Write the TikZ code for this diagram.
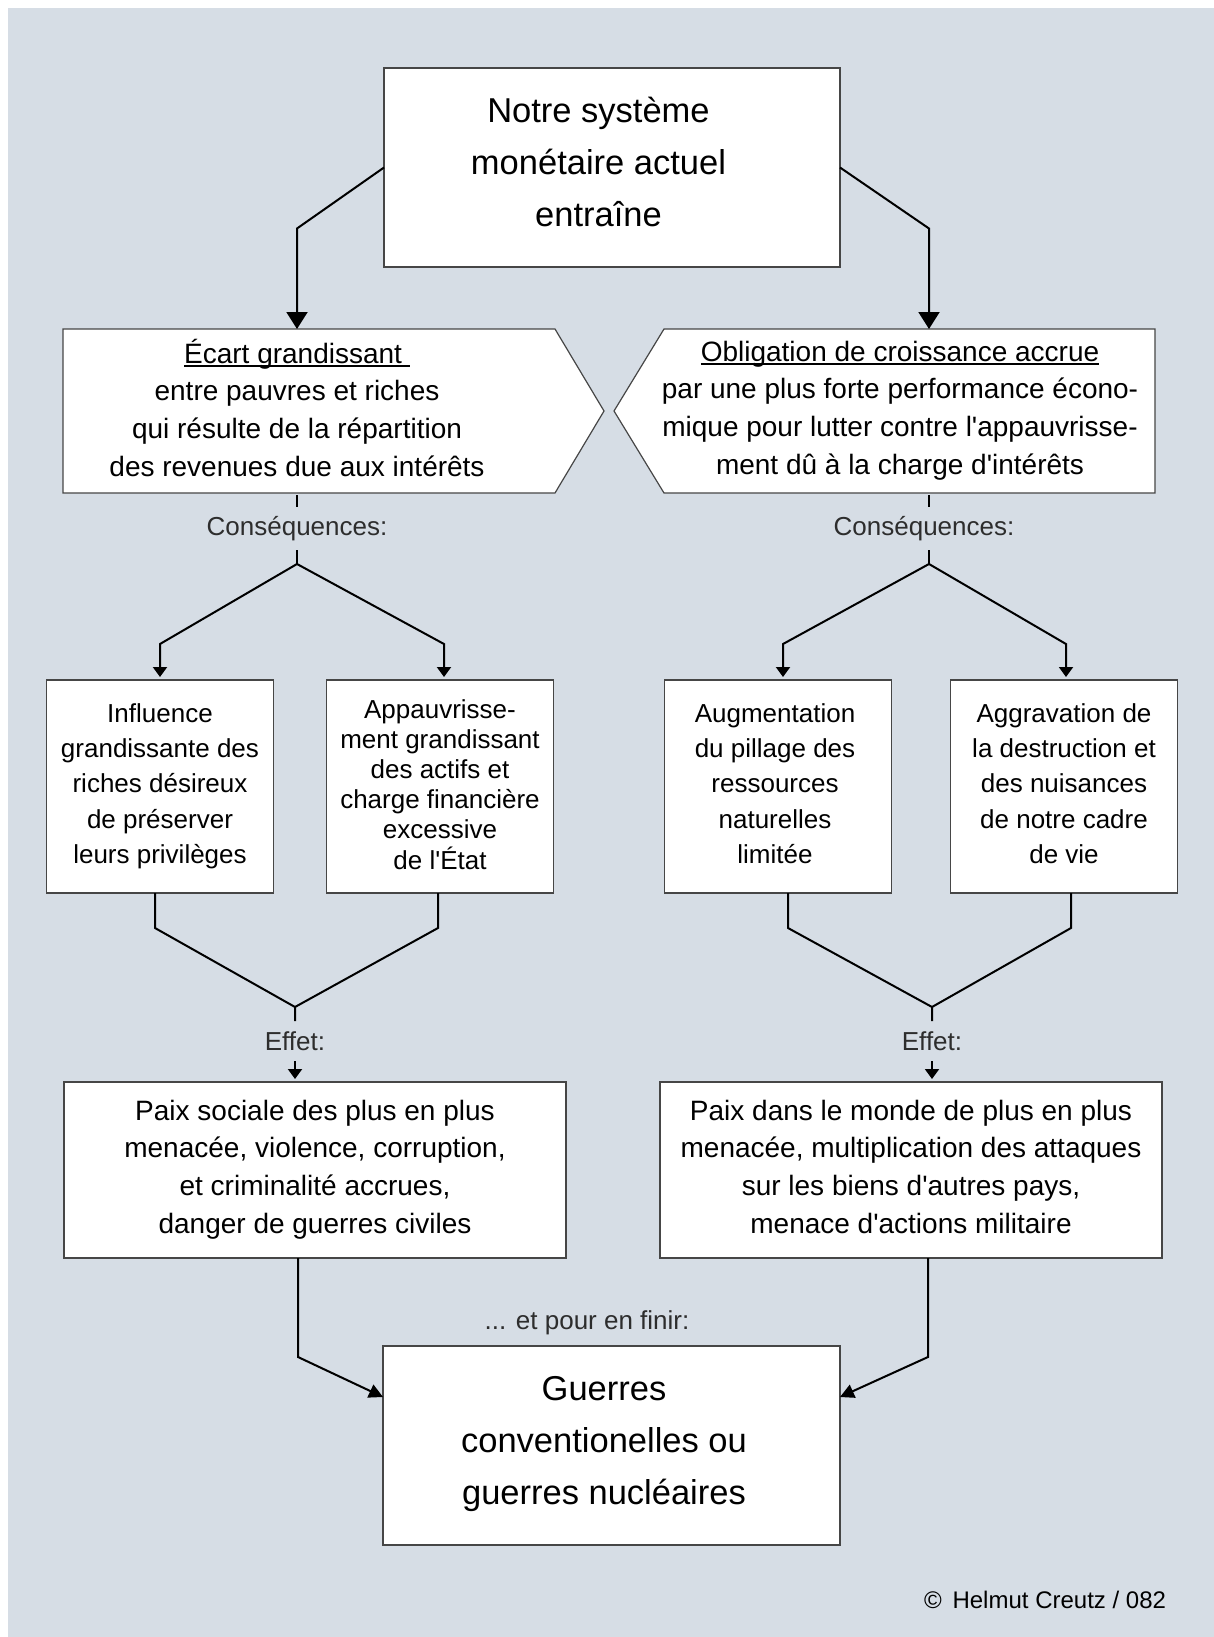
\documentclass[tikz,border=0pt]{standalone}
\usepackage{fontspec}
\setmainfont{Liberation Sans}[Ligatures=TeXOff]
\usetikzlibrary{arrows.meta}
\definecolor{bgc}{RGB}{214,221,229}
\definecolor{edgec}{RGB}{70,70,70}
\definecolor{lblc}{RGB}{45,45,45}
\newcommand\fntTop{\fontsize{17.25pt}{26pt}\selectfont}
\newcommand\fntMid{\fontsize{14pt}{18.8pt}\selectfont}
\newcommand\fntSm{\fontsize{13pt}{17.6pt}\selectfont}
\newcommand\fntSmT{\fontsize{13pt}{15.1pt}\selectfont}
\newcommand\fntLbl{\fontsize{13pt}{15pt}\selectfont}
\newcommand\fntCopy{\fontsize{12pt}{14pt}\selectfont}
\newcommand\undl[1]{\setbox0=\hbox{#1}\rlap{\rule[-1.6pt]{\wd0}{0.65pt}}\box0}
\begin{document}
\begin{tikzpicture}[x=0.5pt,y=-0.5pt,
  every node/.style={inner sep=0pt, outer sep=0pt},
  lines/.style={align=center,
    execute at begin node={\rule{0pt}{\dimexpr0.7\baselineskip+#1\relax}},
    execute at end node={\rule[\dimexpr-0.3\baselineskip+#1\relax]{0pt}{0pt}}},
  lines/.default=2.25pt,
  box/.style={draw=edgec, line width=0.6pt, fill=white, lines},
  frame/.style={draw=edgec, line width=0.6pt, fill=white},
  txt/.style={lines},
  lbl/.style={text=lblc, font=\fntLbl},
  shapeline/.style={draw=edgec, line width=0.6pt, fill=white},
  conn/.style={line width=1pt, black, line join=miter},
  bigarr/.style={conn, -{Triangle[length=8.5pt,width=10.5pt]}},
  smarr/.style={conn, -{Triangle[length=5pt,width=7pt]}, shorten >=1.5pt},
  midarr/.style={conn, -{Triangle[length=7pt,width=7pt]}}
]
\useasboundingbox (0,0) rectangle (1214,1637);
\fill[white] (0,0) rectangle (1214,1637);
\fill[bgc] (8,8) rectangle (1214,1637);

% pentagon outlines
\path[shapeline] (63,329) -- (555,329) -- (604,411) -- (555,493) -- (63,493) -- cycle;
\path[shapeline] (664,329) -- (1155,329) -- (1155,493) -- (664,493) -- (614,411) -- cycle;

% nodes
\node[frame, minimum width=228pt, minimum height=99.5pt] (top) at (612,167.5) {};
\node[txt=2.75pt, font=\fntTop] (toptext) at (598.5,167.5)
  {Notre système\\monétaire actuel\\entraîne};
\node[txt, font=\fntMid, minimum height=82pt] (ecart) at (297,411)
  {\undl{Écart grandissant\ }\\entre pauvres et riches\\qui résulte de la répartition\\des revenues due aux intérêts};
\node[txt, font=\fntMid, minimum height=82pt] (oblig) at (900,411)
  {\undl{Obligation de croissance accrue}\\par une plus forte performance écono-\\mique pour lutter contre l'appauvrisse-\\ment dû à la charge d'intérêts};
\node[lbl, minimum height=21.5pt] (cons1) at (297,528.5) {Conséquences:};
\node[lbl, minimum height=21.5pt] (cons2) at (924,528.5) {Conséquences:};

\node[box, font=\fntSm, minimum width=113.5pt, minimum height=106.5pt] (A) at (160,786.5)
  {Influence\\grandissante des\\riches désireux\\de préserver\\leurs privilèges};
\node[box, font=\fntSmT, minimum width=113.5pt, minimum height=106.5pt] (B) at (440,786.5)
  {Appauvrisse-\\ment grandissant\\des actifs et\\charge financière\\excessive\\de l'État};
\node[frame, minimum width=113.5pt, minimum height=106.5pt] (D) at (778,786.5) {};
\node[txt, font=\fntSm] (Dtext) at (775,786.5)
  {Augmentation\\du pillage des\\ressources\\naturelles\\limitée};
\node[box, font=\fntSm, minimum width=113.5pt, minimum height=106.5pt] (E) at (1064,786.5)
  {Aggravation de\\la destruction et\\des nuisances\\de notre cadre\\de vie};

\node[lbl, minimum height=20pt] (eff1) at (295,1041) {Effet:};
\node[lbl, minimum height=20pt] (eff2) at (932,1041) {Effet:};

\node[box=2.6pt, font=\fntMid, minimum width=251pt, minimum height=88pt] (C) at (315,1170)
  {Paix sociale des plus en plus\\menacée, violence, corruption,\\et criminalité accrues,\\danger de guerres civiles};
\node[box=2.6pt, font=\fntMid, minimum width=251pt, minimum height=88pt] (F) at (911,1170)
  {Paix dans le monde de plus en plus\\menacée, multiplication des attaques\\sur les biens d'autres pays,\\menace d'actions militaire};

\node[lbl] (fin) at (587,1323) {... et pour en finir:};
\node[frame, minimum width=228.5pt, minimum height=99.5pt] (final) at (611.5,1445.5) {};
\node[txt=3pt, font=\fntTop] (finaltext) at (604,1445.5)
  {Guerres\\conventionelles ou\\guerres nucléaires};

\node[font=\fntCopy, anchor=base east] (copy) at (1166,1608) {©\hspace{0.45em}Helmut Creutz / 082};

% connectors
\draw[bigarr] (top.west) -- ++(-87,61) -- (ecart.north);
\draw[bigarr] (top.east) -- ++(89,61) -- ([xshift=14.5pt]oblig.north);

\draw[conn] ([yshift=-1pt]ecart.south) -- (cons1.north);
\draw[conn] ([xshift=14.5pt,yshift=-1pt]oblig.south) -- ([xshift=2.5pt]cons2.north);
\draw[conn] (cons1.south) -- ++(0,14) coordinate (b1);
\draw[conn] ([xshift=2.5pt]cons2.south) -- ++(0,14) coordinate (b2);
\draw[smarr] (b1) -- ++(-137,80) -- (A.north);
\draw[smarr] (b1) -- ++(147,80) -- ([xshift=2pt]B.north);
\draw[smarr] (b2) -- ++(-146,80) -- ([xshift=2.5pt]D.north);
\draw[smarr] (b2) -- ++(137,80) -- ([xshift=1pt]E.north);

\draw[conn] ([xshift=-2.5pt]A.south) -- ++(0,35) -- ([yshift=7pt]eff1.north) -- (eff1.north);
\draw[conn] ([xshift=-1pt]B.south) -- ++(0,35) -- ([yshift=7pt]eff1.north);
\draw[smarr] (eff1.south) -- ([xshift=-10pt]C.north);

\draw[conn] ([xshift=5pt]D.south) -- ++(0,35) -- ([yshift=7pt]eff2.north) -- (eff2.north);
\draw[conn] ([xshift=3.5pt]E.south) -- ++(0,35) -- ([yshift=7pt]eff2.north);
\draw[smarr] (eff2.south) -- ([xshift=10.5pt]F.north);

\draw[midarr] ([xshift=-8.5pt]C.south) -- ++(0,99) -- ([yshift=24.25pt]final.west);
\draw[midarr] ([xshift=8.5pt]F.south) -- ++(0,99) -- ([yshift=24.25pt]final.east);
\end{tikzpicture}
\end{document}
